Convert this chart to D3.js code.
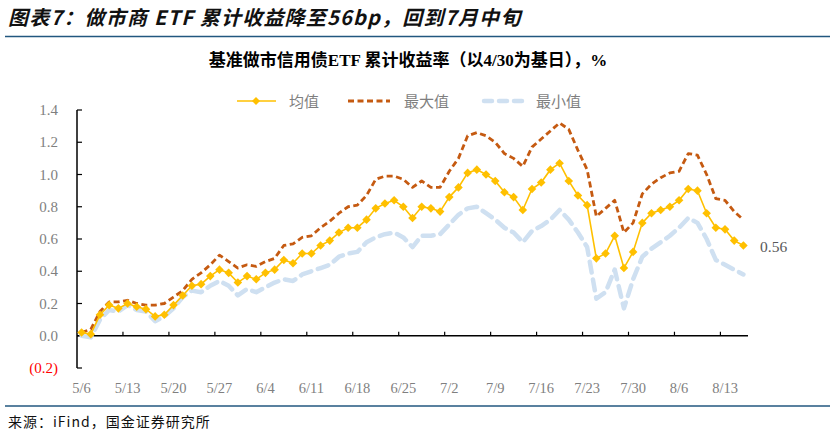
<!DOCTYPE html>
<html><head><meta charset="utf-8">
<script src="https://cdn.jsdelivr.net/npm/d3@7/dist/d3.min.js"></script>
<style>body{margin:0;background:#fff}svg{display:block}</style>
</head><body><svg id="c" width="831" height="436"></svg>
<script>
const dates = ["5/6","5/7","5/8","5/9","5/10","5/13","5/14","5/15","5/16","5/17","5/20","5/21","5/22","5/23","5/24","5/27","5/28","5/29","5/30","5/31","6/4","6/5","6/6","6/7","6/10","6/11","6/12","6/13","6/14","6/17","6/18","6/19","6/20","6/21","6/24","6/25","6/26","6/27","6/28","7/1","7/2","7/3","7/4","7/5","7/8","7/9","7/10","7/11","7/12","7/15","7/16","7/17","7/18","7/19","7/22","7/23","7/24","7/25","7/26","7/29","7/30","7/31","8/1","8/2","8/5","8/6","8/7","8/8","8/9","8/12","8/13","8/14","8/15"];
const avgValues = [0.02,0.01,0.13,0.19,0.17,0.20,0.18,0.165,0.12,0.13, 0.19,0.25,0.31,0.32,0.37,0.41,0.39,0.33,0.37,0.35, 0.39,0.41,0.47,0.45,0.51,0.51,0.56,0.59,0.64,0.67, 0.67,0.72,0.79,0.82,0.84,0.80,0.73,0.80,0.79,0.77, 0.86,0.92,1.01,1.03,1.00,0.96,0.89,0.86,0.78,0.91, 0.95,1.03,1.07,0.96,0.87,0.81,0.48,0.51,0.62,0.42, 0.52,0.70,0.76,0.78,0.80,0.84,0.91,0.90,0.76,0.67, 0.66,0.59,0.56];
const maxValues = [0.02,0.04,0.15,0.21,0.21,0.22,0.20,0.19,0.19,0.20, 0.24,0.28,0.35,0.39,0.44,0.50,0.46,0.42,0.44,0.43, 0.46,0.48,0.56,0.57,0.61,0.62,0.67,0.71,0.76,0.80, 0.81,0.87,0.97,0.99,0.99,0.97,0.92,0.96,0.92,0.92, 1.02,1.10,1.24,1.26,1.24,1.20,1.13,1.10,1.05,1.17, 1.22,1.27,1.32,1.28,1.15,1.03,0.74,0.79,0.84,0.64, 0.70,0.88,0.94,0.98,1.01,1.02,1.13,1.12,1.00,0.85, 0.84,0.77,0.72];
const minValues = [0.00,-0.01,0.10,0.16,0.15,0.19,0.16,0.15,0.09,0.12, 0.17,0.24,0.28,0.27,0.31,0.34,0.31,0.25,0.29,0.27, 0.30,0.33,0.35,0.34,0.38,0.40,0.42,0.44,0.49,0.51, 0.52,0.58,0.61,0.63,0.64,0.61,0.55,0.62,0.62,0.63, 0.69,0.75,0.79,0.80,0.76,0.72,0.67,0.64,0.58,0.65, 0.68,0.72,0.78,0.72,0.64,0.55,0.23,0.27,0.41,0.17, 0.35,0.49,0.54,0.58,0.62,0.67,0.73,0.70,0.60,0.47, 0.44,0.41,0.38];
const yTicks = [-0.2,0,0.2,0.4,0.6,0.8,1.0,1.2,1.4];
const seriesNames = ["均值","最大值","最小值"];
const titleText = "图表7：做市商 ETF 累计收益降至56bp，回到7月中旬";
const subtitleText = "基准做市信用债ETF 累计收益率（以4/30为基日），%";
const sourceText = "来源：iFind，国金证券研究所";

const svg = d3.select("#c");
const W = 831, H = 436;
svg.append("rect").attr("width",W).attr("height",H).attr("fill","#fff");

const x = d3.scaleBand().domain(dates).range([77,748]).paddingInner(0).paddingOuter(0);
const y = d3.scaleLinear().domain([-0.2,1.4]).range([368,110]);
const cx = d => x(d) + x.bandwidth()/2;

// title
svg.append("text").attr("x",8).attr("y",25).text(titleText)
  .attr("font-family","Noto Sans CJK SC").attr("font-size",20).attr("font-weight","bold")
  .attr("font-style","italic").attr("fill","#111").attr("letter-spacing",1.2);
svg.append("line").attr("x1",5).attr("x2",830).attr("y1",36.5).attr("y2",36.5)
  .attr("stroke","#22577f").attr("stroke-width",1.5);

svg.append("text").attr("x",408).attr("y",66).attr("text-anchor","middle").text(subtitleText)
  .attr("font-family","Liberation Serif, Noto Sans CJK SC").attr("font-size",17).attr("font-weight","bold").attr("fill","#000");

// axes
const gy = svg.append("g");
gy.append("line").attr("x1",77).attr("x2",77).attr("y1",y(1.4)).attr("y2",y(-0.2)).attr("stroke","#000").attr("stroke-width",1.5);
yTicks.forEach(t=>{
  gy.append("line").attr("x1",77).attr("x2",82).attr("y1",y(t)).attr("y2",y(t)).attr("stroke","#000").attr("stroke-width",1.2);
  gy.append("text").attr("x",58).attr("y",y(t)+5).attr("text-anchor","end")
    .text(t<0 ? "("+d3.format(".1f")(-t)+")" : d3.format(".1f")(t))
    .attr("font-family","Liberation Serif").attr("font-size",15)
    .attr("fill", t<0 ? "#ff0000" : "#7f7f7f");
});
const gx = svg.append("g");
gx.append("line").attr("x1",77).attr("x2",748).attr("y1",y(0)).attr("y2",y(0)).attr("stroke","#000").attr("stroke-width",1.5);
dates.forEach((d,i)=>{
  if(i%5===0){
    if(i>0) gx.append("line").attr("x1",x(d)).attr("x2",x(d)).attr("y1",y(0)).attr("y2",y(0)-4).attr("stroke","#000").attr("stroke-width",1.2);
    gx.append("text").attr("x",cx(d)).attr("y",393).attr("text-anchor","middle").text(d)
      .attr("font-family","Liberation Serif").attr("font-size",14.5).attr("fill","#7f7f7f");
  }
});

const line = d3.line().x((v,i)=>cx(dates[i])).y(v=>y(v));
svg.append("path").attr("d",line(minValues)).attr("fill","none").attr("stroke","#cfe0f1")
  .attr("stroke-width",4.5).attr("stroke-dasharray","11,7").attr("stroke-linecap","round").attr("stroke-linejoin","round");
svg.append("path").attr("d",line(maxValues)).attr("fill","none").attr("stroke","#c55a11")
  .attr("stroke-width",2.8).attr("stroke-dasharray","6,3.5").attr("stroke-linejoin","round");
svg.append("path").attr("d",line(avgValues)).attr("fill","none").attr("stroke","#ffc000")
  .attr("stroke-width",1.6);
const dia = r => `M0,${-r}L${r},0L0,${r}L${-r},0Z`;
svg.append("g").selectAll("path").data(avgValues).join("path")
  .attr("transform",(v,i)=>`translate(${cx(dates[i])},${y(v)})`).attr("d",dia(4.3)).attr("fill","#ffc000");

// end label
svg.append("text").attr("x",760).attr("y",252).text(d3.format(".2f")(avgValues[avgValues.length-1]))
  .attr("font-family","Liberation Serif").attr("font-size",15.5).attr("fill","#595959");

// legend
const lg = svg.append("g");
const ly = 101;
lg.append("line").attr("x1",237).attr("x2",276).attr("y1",ly).attr("y2",ly).attr("stroke","#ffc000").attr("stroke-width",1.6);
lg.append("path").attr("transform",`translate(256,${ly})`).attr("d",dia(4)).attr("fill","#ffc000");
lg.append("line").attr("x1",348).attr("x2",390).attr("y1",ly).attr("y2",ly).attr("stroke","#c55a11").attr("stroke-width",2.8).attr("stroke-dasharray","6,3.5");
lg.append("line").attr("x1",484).attr("x2",522).attr("y1",ly).attr("y2",ly).attr("stroke","#cfe0f1").attr("stroke-width",4.5).attr("stroke-dasharray","8,7").attr("stroke-linecap","round");
[[289,0],[404,1],[536,2]].forEach(([lx,k])=>{
  lg.append("text").attr("x",lx).attr("y",ly+5.5).text(seriesNames[k])
    .attr("font-family","Noto Sans CJK SC").attr("font-size",15).attr("fill","#7f7f7f");
});

// footer
svg.append("line").attr("x1",5).attr("x2",830).attr("y1",406).attr("y2",406).attr("stroke","#22577f").attr("stroke-width",1.5);
svg.append("text").attr("x",8).attr("y",427).text(sourceText)
  .attr("font-family","Noto Sans CJK SC").attr("font-size",14).attr("fill","#111").attr("letter-spacing",1);
</script></body></html>
